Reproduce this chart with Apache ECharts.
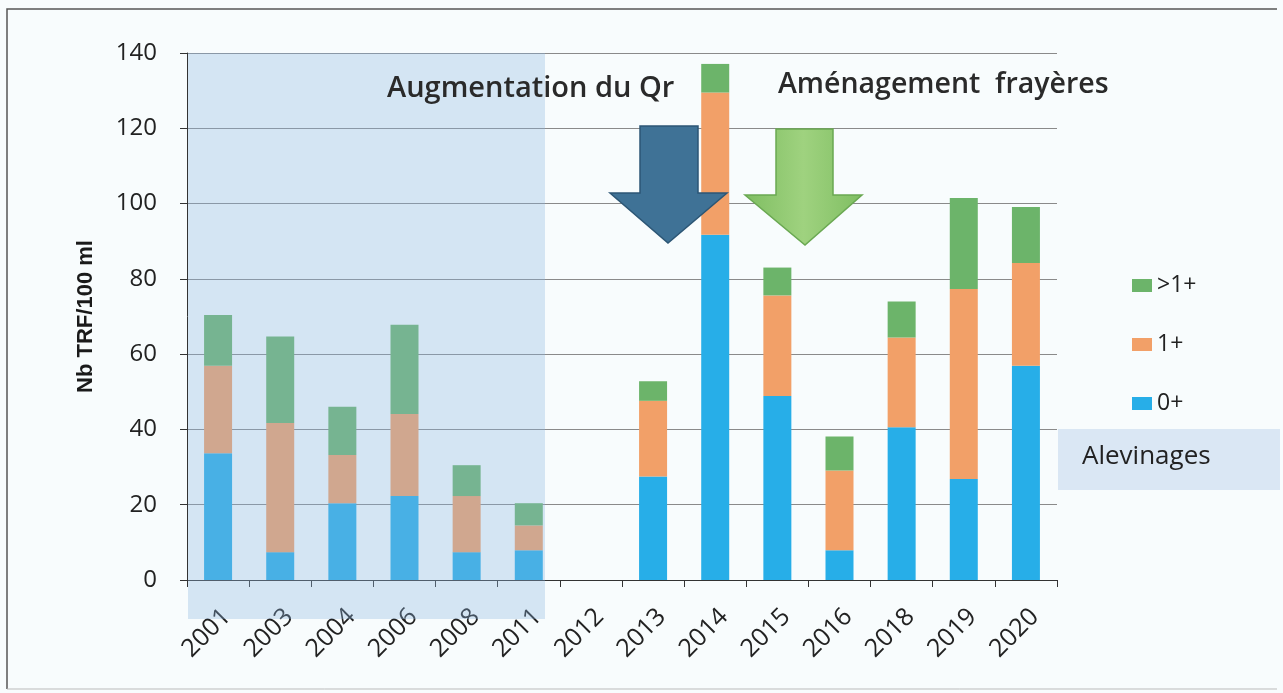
<!DOCTYPE html>
<html>
<head>
<meta charset="utf-8">
<script src="https://cdn.jsdelivr.net/npm/echarts@6/dist/echarts.min.js"></script>
<style>
html,body{margin:0;padding:0;background:#f8fcfd;}
#c{width:1283px;height:693px;}
</style>
</head>
<body>
<div id="c"></div>
<script>
const years = ['2001','2003','2004','2006','2008','2011','2012','2013','2014','2015','2016','2018','2019','2020'];
const age0 = [33.7, 7.4, 20.4, 22.3, 7.4, 7.9, 0, 27.5, 91.7, 48.9, 7.9, 40.6, 26.8, 56.9];
const age1 = [23.2, 34.3, 12.8, 21.8, 14.9, 6.6, 0, 20.1, 37.8, 26.7, 21.2, 23.8, 50.5, 27.3];
const ageOver1 = [13.5, 23.0, 12.8, 23.7, 8.2, 5.9, 0, 5.2, 7.6, 7.4, 9.0, 9.6, 24.2, 14.9];
const yTicks = [0, 20, 40, 60, 80, 100, 120, 140];

const font = '"Open Sans", Lato, sans-serif';
const chart = echarts.init(document.getElementById('c'), null, {renderer: 'canvas'});
const barW = 28;
chart.setOption({
  backgroundColor: '#f8fcfd',
  animation: false,
  grid: {left: 187, right: 226, top: 53, bottom: 113},
  legend: {
    orient: 'vertical', left: 1127, top: 269, itemWidth: 20, itemHeight: 13, itemGap: 36,
    data: ['>1+', '1+', '0+'],
    textStyle: {fontFamily: font, fontSize: 23, lineHeight: 22, color: '#222'},
    icon: 'rect'
  },
  xAxis: {
    type: 'category', data: years,
    axisLine: {lineStyle: {color: '#333', width: 1}},
    axisTick: {show: true, length: 7, lineStyle: {color: '#333'}},
    axisLabel: {rotate: 45, fontFamily: font, fontSize: 25, color: '#222', margin: 24, verticalAlign: 'top'}
  },
  yAxis: {
    type: 'value', min: 0, max: 140, interval: 20,
    name: 'Nb TRF/100 ml', nameLocation: 'middle', nameGap: 90,
    nameTextStyle: {fontFamily: '"Liberation Sans", Arial, sans-serif', fontWeight: 'bold', fontSize: 22, color: '#1a1a1a'},
    axisLine: {show: true, lineStyle: {color: '#333'}},
    axisTick: {show: true, length: 7, lineStyle: {color: '#333'}},
    axisLabel: {fontFamily: font, fontSize: 24, color: '#222', margin: 30,
      formatter: v => yTicks.includes(v) ? String(v) : ''},
    splitLine: {lineStyle: {color: '#8a8a8a', width: 1}}
  },
  series: [
    {name: '0+', type: 'bar', stack: 's', data: age0, barWidth: barW, itemStyle: {color: '#27aee8'}, z: 2},
    {name: '1+', type: 'bar', stack: 's', data: age1, barWidth: barW, itemStyle: {color: '#f2a068'}, z: 2},
    {name: '>1+', type: 'bar', stack: 's', data: ageOver1, barWidth: barW, itemStyle: {color: '#6cb46a'}, z: 2}
  ],
  graphic: [
    {type: 'polyline', shape: {points: [[7, 689], [7, 9], [1277, 9]]}, style: {stroke: '#555', lineWidth: 1.5, fill: null}, z: 0},
    {type: 'line', shape: {x1: 7, y1: 689, x2: 1277, y2: 689}, style: {stroke: '#bbb', lineWidth: 1}, z: 0},
    {type: 'rect', shape: {x: 188, y: 53, width: 357, height: 566}, style: {fill: 'rgba(140,182,225,0.33)'}, z: 100, silent: true},
    {type: 'rect', shape: {x: 1058, y: 429, width: 222, height: 61}, style: {fill: '#dae7f4'}, z: 1},
    {type: 'text', x: 1082, y: 457, style: {text: 'Alevinages', fontFamily: font, fontSize: 26, fill: '#222', verticalAlign: 'middle'}, z: 2},
    {type: 'text', x: 387, y: 89, style: {text: 'Augmentation du Qr', fontFamily: font, fontSize: 29, fontWeight: 600, fill: '#2a2a2a', verticalAlign: 'middle'}, z: 101},
    {type: 'text', x: 778, y: 85, style: {text: 'Aménagement  frayères', fontFamily: font, fontSize: 28.5, fontWeight: 600, fill: '#2a2a2a', verticalAlign: 'middle'}, z: 101},
    {type: 'polygon', shape: {points: [[640,126],[698,126],[698,193],[727,193],[668,243],[610,193],[640,193]]},
      style: {fill: '#3f7296', stroke: '#2c5675', lineWidth: 1.5}, z: 50},
    {type: 'polygon', shape: {points: [[776,129],[833,129],[833,195],[862,195],[805,245],[745,195],[776,195]]},
      style: {fill: {type: 'linear', x: 0, y: 0, x2: 1, y2: 0, colorStops: [{offset: 0, color: '#7fbe62'}, {offset: 0.5, color: '#9fd27f'}, {offset: 1, color: '#7fbe62'}]},
        stroke: '#6aa852', lineWidth: 1.5}, z: 50}
  ]
});
</script>
</body>
</html>
